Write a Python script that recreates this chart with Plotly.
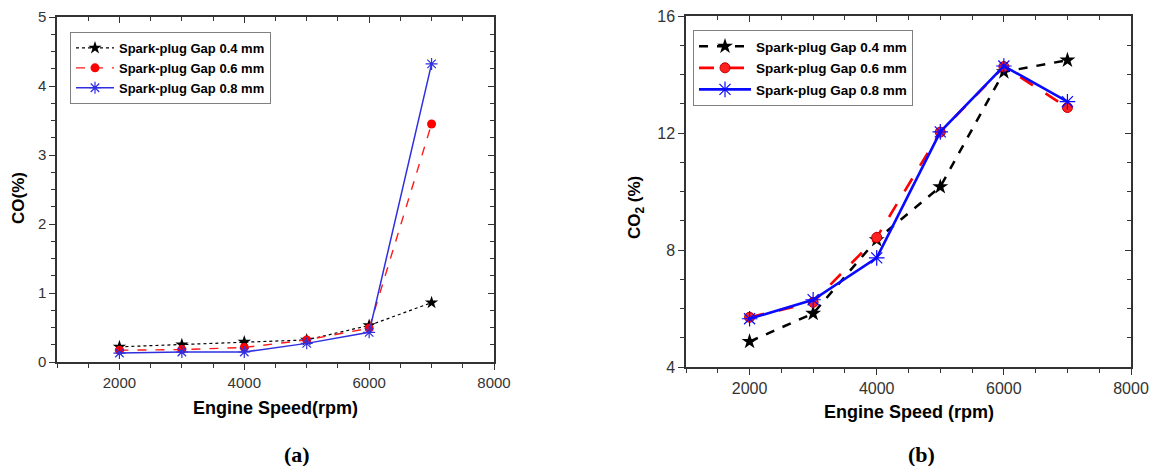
import plotly.graph_objects as go

# Engine speed (rpm)
speed = [2000, 3000, 4000, 5000, 6000, 7000]
gap_labels = ["Spark-plug Gap 0.4 mm", "Spark-plug Gap 0.6 mm", "Spark-plug Gap 0.8 mm"]

# CO emissions (%)
co_gap04 = [0.22, 0.25, 0.29, 0.32, 0.53, 0.86]
co_gap06 = [0.17, 0.18, 0.21, 0.32, 0.49, 3.45]
co_gap08 = [0.13, 0.145, 0.145, 0.27, 0.43, 4.32]

# CO2 emissions (%)
co2_gap04 = [4.87, 5.83, 8.35, 10.16, 14.09, 14.49]
co2_gap06 = [5.70, 6.21, 8.43, 12.03, 14.27, 12.87]
co2_gap08 = [5.65, 6.30, 7.73, 12.04, 14.29, 13.07]

W, H = 1150, 466
FONT = "Liberation Sans"
TICK_COLOR = "#333333"


def px_x(v):
    return v / W


def px_y(v):
    return (H - v) / H


fig = go.Figure()

# ---- panel (a): CO ----
fig.add_trace(go.Scatter(
    x=speed, y=co_gap04, name=gap_labels[0], xaxis="x", yaxis="y", legend="legend",
    mode="lines+markers", line=dict(color="black", width=1.2, dash="dot"),
    marker=dict(symbol="star", size=10, color="black"), legendgroup="a1"))
fig.add_trace(go.Scatter(
    x=speed, y=co_gap06, name=gap_labels[1], xaxis="x", yaxis="y", legend="legend",
    mode="lines+markers", line=dict(color="#ff1a1a", width=1.4, dash="dash"),
    marker=dict(symbol="circle", size=9, color="#ff0000"), legendgroup="a2"))
fig.add_trace(go.Scatter(
    x=speed, y=co_gap08, name=gap_labels[2], xaxis="x", yaxis="y", legend="legend",
    mode="lines+markers", line=dict(color="#2f2fe0", width=1.5),
    marker=dict(symbol="asterisk-open", size=10, line=dict(color="#6f6fff", width=1.2)),
    legendgroup="a3"))

# ---- panel (b): CO2 ----
fig.add_trace(go.Scatter(
    x=speed, y=co2_gap04, name=gap_labels[0], xaxis="x2", yaxis="y2", legend="legend2",
    mode="lines+markers", line=dict(color="black", width=2.5, dash="dash"),
    marker=dict(symbol="star", size=12, color="black"), legendgroup="b1"))
fig.add_trace(go.Scatter(
    x=speed, y=co2_gap06, name=gap_labels[1], xaxis="x2", yaxis="y2", legend="legend2",
    mode="lines+markers", line=dict(color="#ff0000", width=2.6, dash="longdash"),
    marker=dict(symbol="circle", size=10, color="#ff2020", line=dict(color="#c00000", width=1)),
    legendgroup="b2"))
fig.add_trace(go.Scatter(
    x=speed, y=co2_gap08, name=gap_labels[2], xaxis="x2", yaxis="y2", legend="legend2",
    mode="lines+markers", line=dict(color="#0a0aff", width=2.6),
    marker=dict(symbol="asterisk-open", size=13, line=dict(color="#7a7aff", width=1.2)),
    legendgroup="b3"))

# empty traces so the mirrored frame axes (top / right) get drawn
for xa, ya in (("x3", "y3"), ("x4", "y4")):
    fig.add_trace(go.Scatter(x=[], y=[], xaxis=xa, yaxis=ya, showlegend=False,
                             hoverinfo="skip"))

# panel frames (pixels)
A_X0, A_X1, A_Y0, A_Y1 = 57, 494, 17, 362
B_X0, B_X1, B_Y0, B_Y1 = 686, 1131, 16, 367


def main_axis(domain, rng, dtick, minor_dtick, size, anchor, tick0=0):
    return dict(
        domain=domain, range=rng, anchor=anchor, dtick=dtick, tick0=tick0,
        ticks="outside", ticklen=6, tickwidth=1.2, tickcolor="#333",
        minor=dict(dtick=minor_dtick, tick0=tick0, ticks="outside", ticklen=4,
                   tickwidth=1.2, tickcolor="#333", showgrid=False),
        showline=True, linecolor="#333", linewidth=1.5,
        showgrid=False, zeroline=False, automargin=False,
        tickfont=dict(family=FONT, size=size, color=TICK_COLOR),
        fixedrange=True,
    )


def mirror_axis(overlay, side, rng, dtick, minor_dtick, anchor, tick0=0):
    return dict(
        overlaying=overlay, side=side, range=rng, anchor=anchor, dtick=dtick, tick0=tick0,
        ticks="inside", ticklen=6, tickwidth=1.2, tickcolor="#333",
        minor=dict(dtick=minor_dtick, tick0=tick0, ticks="inside", ticklen=4,
                   tickwidth=1.2, tickcolor="#333", showgrid=False),
        showline=True, linecolor="#333", linewidth=1.5, automargin=False,
        showgrid=False, zeroline=False, showticklabels=False, fixedrange=True,
    )


a_xdom = [px_x(A_X0), px_x(A_X1)]
a_ydom = [px_y(A_Y1), px_y(A_Y0)]
b_xdom = [px_x(B_X0), px_x(B_X1)]
b_ydom = [px_y(B_Y1), px_y(B_Y0)]

legend_common = dict(
    bgcolor="white", bordercolor="#808080", borderwidth=1,
    xanchor="left", yanchor="top", traceorder="grouped",
)

fig.update_layout(
    width=W, height=H,
    margin=dict(l=0, r=0, t=0, b=0, autoexpand=False),
    paper_bgcolor="white", plot_bgcolor="white",
    xaxis=main_axis(a_xdom, [1000, 8000], 2000, 500, 15, "y"),
    yaxis=main_axis(a_ydom, [0, 5], 1, 0.25, 15, "x"),
    xaxis2=main_axis(b_xdom, [1000, 8000], 2000, 500, 16, "y2"),
    yaxis2=main_axis(b_ydom, [4, 16], 4, 1, 16, "x2"),
    xaxis3=mirror_axis("x", "top", [1000, 8000], 2000, 500, "y3"),
    yaxis3=mirror_axis("y", "right", [0, 5], 1, 0.25, "x3"),
    xaxis4=mirror_axis("x2", "top", [1000, 8000], 2000, 500, "y4"),
    yaxis4=mirror_axis("y2", "right", [4, 16], 4, 1, "x4"),
    legend=dict(
        x=px_x(70), y=px_y(32), tracegroupgap=0, itemwidth=38,
        font=dict(family=FONT, size=13, color="black", weight="bold"),
        **legend_common),
    legend2=dict(
        x=px_x(693), y=px_y(30), tracegroupgap=1, itemwidth=52,
        font=dict(family=FONT, size=13.5, color="black", weight="bold"),
        **legend_common),
    showlegend=True,
)

title_font = dict(family=FONT, size=18, color="black", weight="bold")
annotations = [
    dict(text="CO(%)", x=px_x(18), y=px_y(198), textangle=-90,
         font=dict(family=FONT, size=17, color="black", weight="bold")),
    dict(text="Engine Speed(rpm)", x=px_x((A_X0 + A_X1) / 2), y=px_y(408), font=title_font),
    dict(text="CO<sub>2</sub> (%)", x=px_x(636), y=px_y(208), textangle=-90,
         font=dict(family=FONT, size=17, color="black", weight="bold")),
    dict(text="Engine Speed (rpm)", x=px_x((B_X0 + B_X1) / 2), y=px_y(412), font=title_font),
    dict(text="(a)", x=px_x(297), y=px_y(454),
         font=dict(family="Liberation Serif", size=22, color="black", weight="bold")),
    dict(text="(b)", x=px_x(921), y=px_y(454),
         font=dict(family="Liberation Serif", size=22, color="black", weight="bold")),
]
for a in annotations:
    a.update(xref="paper", yref="paper", showarrow=False, xanchor="center", yanchor="middle")
fig.update_layout(annotations=annotations)

fig.write_html("out.html", config={"displayModeBar": False})
